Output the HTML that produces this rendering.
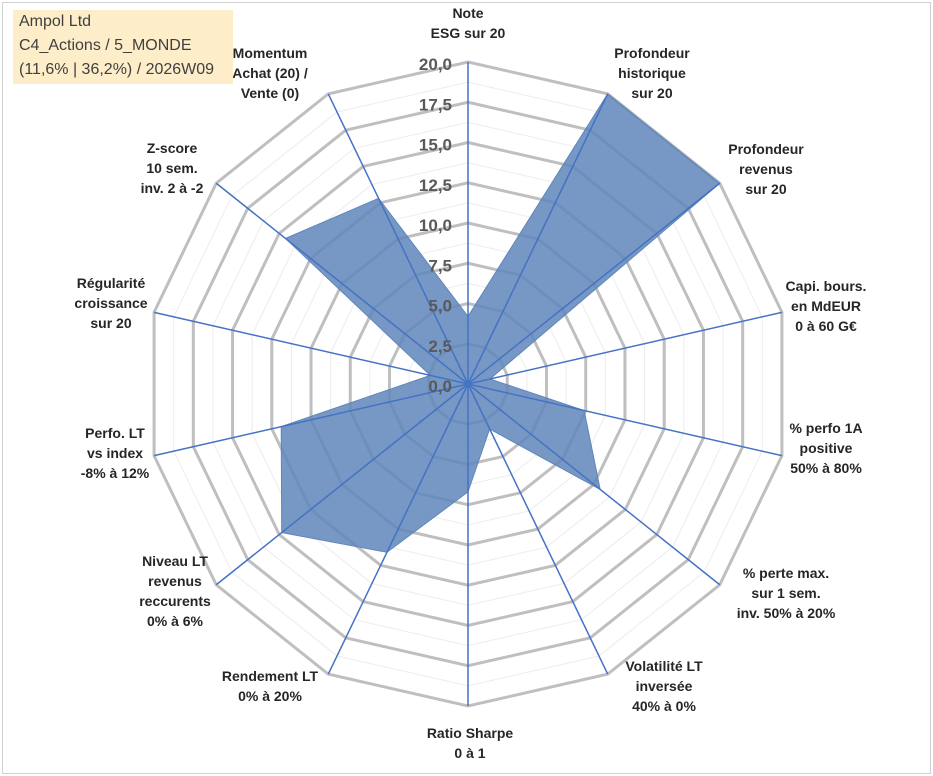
<!DOCTYPE html>
<html><head><meta charset="utf-8"><style>
body{margin:0;background:#fff;}
#wrap{position:relative;width:933px;height:776px;overflow:hidden;font-family:"Liberation Sans",Arial,sans-serif;}
#frame{position:absolute;left:2px;top:2px;width:927px;height:770px;border:1px solid #d0d0d0;}
#title{position:absolute;left:13px;top:10px;width:220px;height:74px;background:#fdeec9;color:#404040;font-size:16px;line-height:24px;padding:0 0 0 6px;box-sizing:border-box;}
svg text{font-family:"Liberation Sans",Arial,sans-serif;}
</style></head><body>
<div id="wrap">
<div id="frame"></div>
<svg id="chart" width="933" height="776" style="position:absolute;left:0;top:0"></svg>
<div id="title">Ampol Ltd<br>C4_Actions / 5_MONDE<br>(11,6% | 36,2%) / 2026W09</div>
</div>
<script>
const categories=[["Note","ESG sur 20"],["Profondeur","historique","sur 20"],["Profondeur","revenus","sur 20"],["Capi. bours.","en MdEUR","0 à 60 G€"],["% perfo 1A","positive","50% à 80%"],["% perte max.","sur 1 sem.","inv. 50% à 20%"],["Volatilité LT","inversée","40% à 0%"],["Ratio Sharpe","0 à 1"],["Rendement LT","0% à 20%"],["Niveau LT","revenus","reccurents","0% à 6%"],["Perfo. LT","vs index","-8% à 12%"],["Régularité","croissance","sur 20"],["Z-score","10 sem.","inv. 2 à -2"],["Momentum","Achat (20) /","Vente (0)"]];
const values=[4.2,20,20,1.4,7.4,10.5,3.1,6.7,11.6,14.8,11.9,2.4,14.5,12.8];
const tickLabels=["0,0","2,5","5,0","7,5","10,0","12,5","15,0","17,5","20,0"];
const tickValues=[0,2.5,5,7.5,10,12.5,15,17.5,20];
const labelPos=[[468,18,"middle"],[652,58,"middle"],[766,154,"middle"],[826,291,"middle"],[826,433,"middle"],[786,578,"middle"],[664,671,"middle"],[470,738,"middle"],[270,681,"middle"],[175,566,"middle"],[115,438,"middle"],[111,288,"middle"],[172,153,"middle"],[270,58,"middle"]];
const NS="http://www.w3.org/2000/svg",svg=document.getElementById('chart');
const cx=468,cy=384,R=322,maxV=20,N=categories.length;
function ang(i){return -Math.PI/2+i*2*Math.PI/N;}
function pt(i,v){const r=v/maxV*R;return [cx+r*Math.cos(ang(i)),cy+r*Math.sin(ang(i))];}
function mk(t,a){const e=document.createElementNS(NS,t);for(const k in a)e.setAttribute(k,a[k]);svg.appendChild(e);return e;}
for(let k=0;k<tickValues.length-1;k++){const v=(tickValues[k]+tickValues[k+1])/2;const p=[];for(let i=0;i<N;i++)p.push(pt(i,v).join(','));
const e=mk('polygon',{points:p.join(' '),fill:'none',stroke:'#ececec','stroke-width':1});

}
for(let k=1;k<tickValues.length;k++){const p=[];for(let i=0;i<N;i++)p.push(pt(i,tickValues[k]).join(','));
const e=mk('polygon',{points:p.join(' '),fill:'none',stroke:'#bfbfbf','stroke-width':3});

}
const dp=values.map((v,i)=>pt(i,v).join(',')).join(' ');
const area=mk('polygon',{points:dp,fill:'#5f86ba','fill-opacity':0.85,stroke:'#5f86ba','stroke-width':1});


for(let i=0;i<N;i++){const e=pt(i,maxV);const l=mk('line',{x1:cx,y1:cy,x2:e[0],y2:e[1],stroke:'#4472c4','stroke-width':1.5});

}
mk('circle',{cx:cx,cy:cy,r:3,fill:'#4472c4'});
tickValues.forEach((v,k)=>{const t=mk('text',{x:cx-16,y:cy-v/maxV*R+8,'text-anchor':'end','font-size':17,'font-weight':'bold',fill:'#595959'});t.textContent=tickLabels[k];

});
categories.forEach((c,i)=>{const [x,y,a]=labelPos[i];const t=mk('text',{x:x,y:y,'text-anchor':a,'font-size':14,'font-weight':'bold',fill:'#262626'});


c.forEach((s,j)=>{const ts=document.createElementNS(NS,'tspan');ts.setAttribute('x',x);ts.setAttribute('dy',j?20:0);ts.textContent=s;t.appendChild(ts);});});
</script>
</body></html>
